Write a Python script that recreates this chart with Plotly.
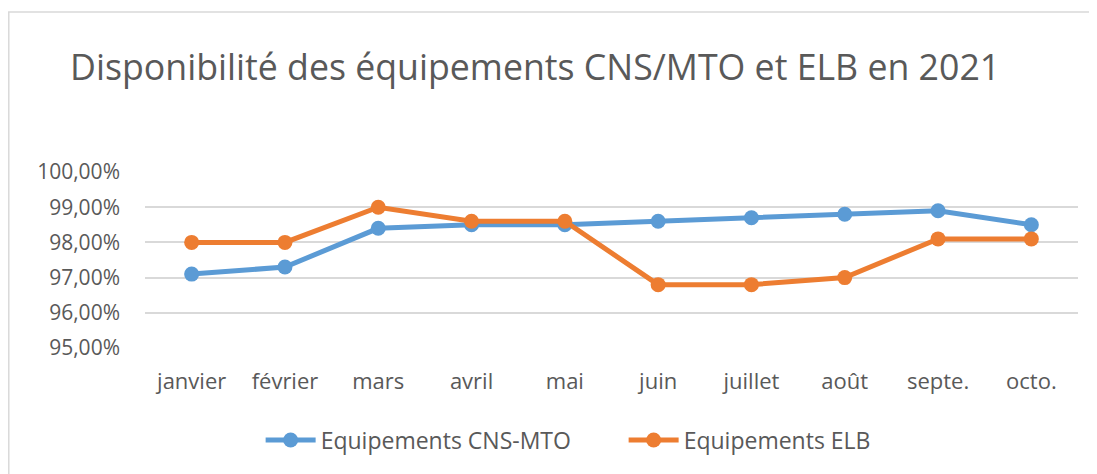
import plotly.graph_objects as go

months = ["janvier", "février", "mars", "avril", "mai", "juin", "juillet", "août", "septe.", "octo."]
cns_mto = [0.971, 0.973, 0.984, 0.985, 0.985, 0.986, 0.987, 0.988, 0.989, 0.985]
elb = [0.980, 0.980, 0.990, 0.986, 0.986, 0.968, 0.968, 0.970, 0.981, 0.981]

title_text = "Disponibilité des équipements CNS/MTO et ELB en 2021"
FONT = "Open Sans"
TXT = "#595959"

fig = go.Figure()
fig.add_trace(go.Scatter(x=months, y=cns_mto, mode="lines+markers", name="Equipements CNS-MTO",
                         line=dict(color="#5B9BD5", width=5), marker=dict(size=15, color="#5B9BD5")))
fig.add_trace(go.Scatter(x=months, y=elb, mode="lines+markers", name="Equipements ELB",
                         line=dict(color="#ED7D31", width=5), marker=dict(size=15, color="#ED7D31")))

fig.update_layout(
    width=1089, height=466,
    margin=dict(l=137, r=19, t=164, b=126),
    paper_bgcolor="white", plot_bgcolor="white",
    separators=",.",
    font=dict(family=FONT, color=TXT, size=21),
    title=dict(text=title_text, x=0.057, xanchor="left", y=0.873, yanchor="middle",
               font=dict(family=FONT, size=35.7, color=TXT)),
    showlegend=True,
    legend=dict(orientation="h", x=0.513, xanchor="center", y=-0.523, yanchor="middle",
                font=dict(size=23, color=TXT), itemwidth=50, entrywidth=298),
    xaxis=dict(type="category", range=[-0.5, 9.5], showgrid=False, zeroline=False,
               showline=False, ticks="", ticklabelstandoff=18, tickfont=dict(size=22, color=TXT)),
    yaxis=dict(range=[0.95, 1.0], tickvals=[0.95, 0.96, 0.97, 0.98, 0.99, 1.0], tickformat=".2%",
               showgrid=True, gridcolor="#D9D9D9", gridwidth=2, zeroline=False, showline=False,
               ticks="", ticklabelstandoff=24, tickfont=dict(size=21, color=TXT)),
)

# chart frame (top and left edges visible)
fig.add_shape(type="rect", xref="paper", yref="paper", x0=-0.146, x1=1.1, y0=-1.0, y1=1.909,
              line=dict(color="#D9D9D9", width=1.5), fillcolor="rgba(0,0,0,0)", layer="below")

fig.write_html("out.html")
